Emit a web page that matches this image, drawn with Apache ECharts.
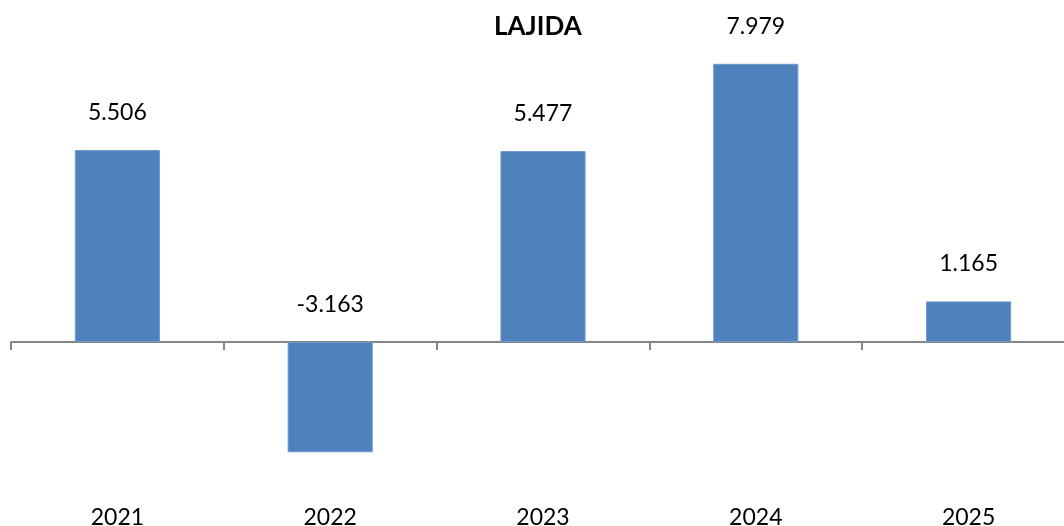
<!DOCTYPE html>
<html>
<head>
<meta charset="utf-8">
<script src="https://cdn.jsdelivr.net/npm/echarts@6/dist/echarts.min.js"></script>
<style>
html,body{margin:0;padding:0;background:#fff;}
#chart{width:1064px;height:526px;}
</style>
</head>
<body>
<div id="chart"></div>
<script>
const title = 'LAJIDA';
const categories = ['2021', '2022', '2023', '2024', '2025'];
const values = [5.506, -3.163, 5.477, 7.979, 1.165];

const chart = echarts.init(document.getElementById('chart'));
const FONT = 'Lato';
chart.setOption({
  animation: false,
  backgroundColor: '#ffffff',
  title: {
    text: title,
    left: 489,
    top: 9,
    textStyle: { fontFamily: FONT, fontWeight: 'bold', fontSize: 26, color: '#000' }
  },
  grid: { left: 11, right: -11, top: 28.2, bottom: 526 - 498.9, outerBoundsMode: 'none', containLabel: false },
  xAxis: {
    type: 'category',
    data: categories,
    axisLine: { onZero: true, lineStyle: { color: '#868686', width: 2 } },
    axisTick: { show: true, alignWithLabel: false, length: 8, lineStyle: { color: '#868686', width: 2 } },
    axisLabel: { margin: 7, fontFamily: FONT, fontSize: 23, color: '#000' }
  },
  yAxis: {
    type: 'value',
    min: -4.5,
    max: 9,
    show: false,
    splitLine: { show: false }
  },
  series: [{
    type: 'bar',
    data: values,
    barWidth: '40%',
    itemStyle: { color: '#4F81BD', borderColor: '#6F9AD0', borderWidth: 1 },
    label: {
      show: true,
      position: 'top',
      distance: 26,
      fontFamily: FONT,
      fontSize: 23,
      color: '#000',
      formatter: p => p.value.toFixed(3)
    }
  }]
});
</script>
</body>
</html>
